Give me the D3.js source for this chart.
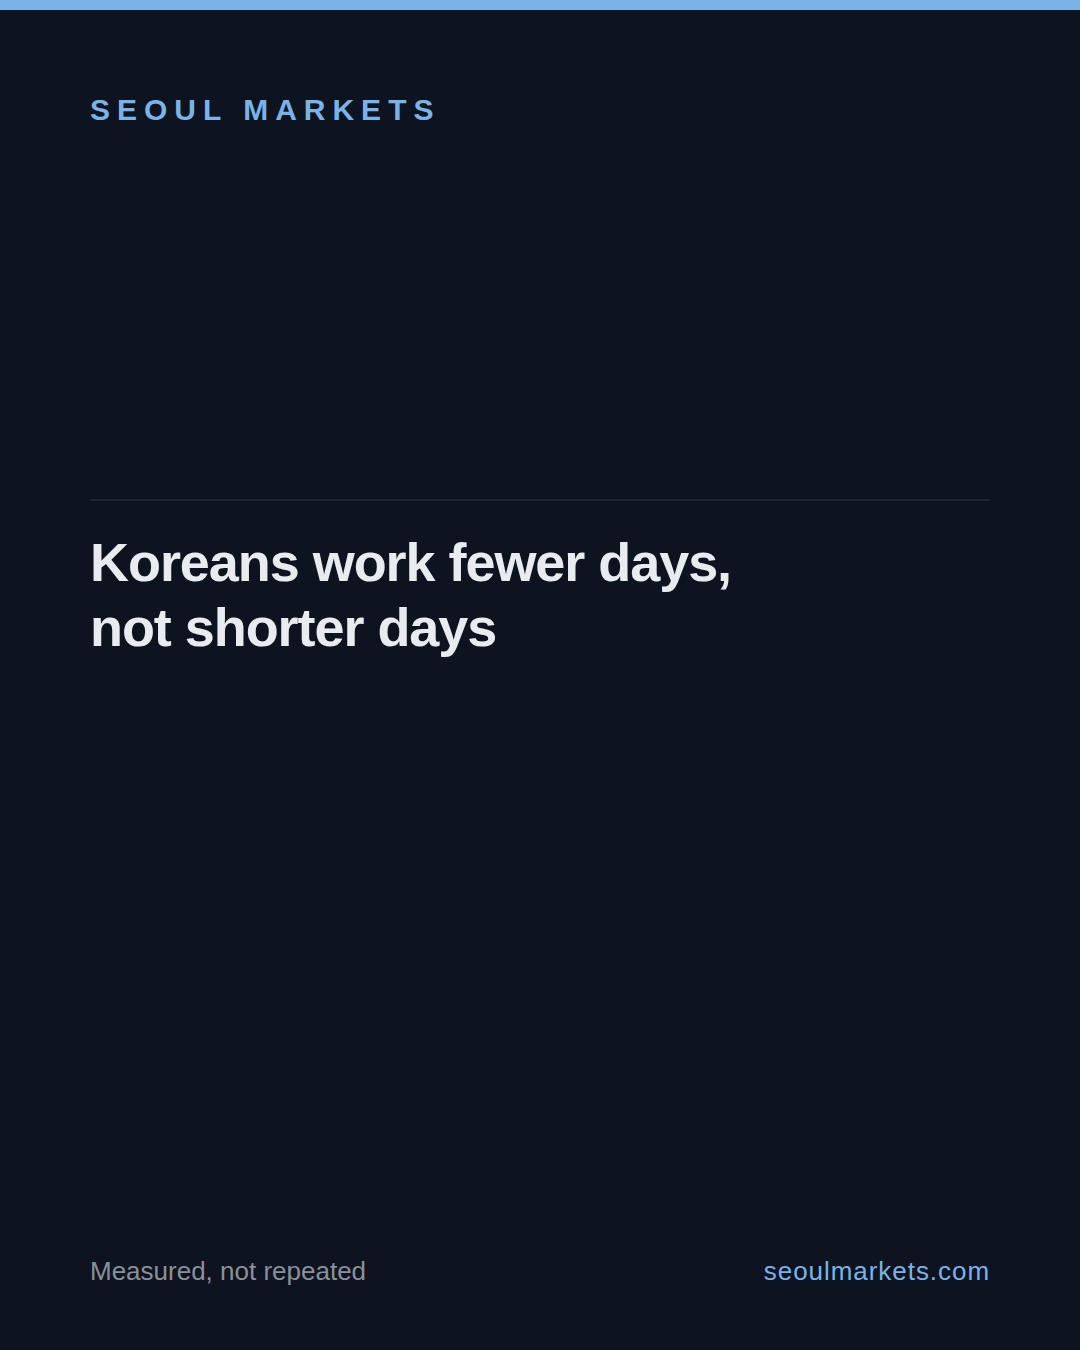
<!DOCTYPE html>
<html>
<head>
<meta charset="utf-8">
<script src="https://cdn.jsdelivr.net/npm/d3@7"></script>
<style>
  html, body { margin: 0; padding: 0; background: #0d131f; }
</style>
</head>
<body>
<div id="card"></div>
<script>
// Text content of the card
const brand = "SEOUL MARKETS";
const titleLines = ["Koreans work fewer days,", "not shorter days"];
const footerLeft = "Measured, not repeated";
const footerRight = "seoulmarkets.com";

const width = 1080;
const height = 1350;
const margin = { left: 90, right: 90 };

const svg = d3.select("#card")
    .append("svg")
    .attr("width", width)
    .attr("height", height)
    .style("font-family", "'Liberation Sans', Arial, sans-serif");

// Background
svg.append("rect")
    .attr("width", width)
    .attr("height", height)
    .attr("fill", "#0d131f");

// Top accent bar
svg.append("rect")
    .attr("width", width)
    .attr("height", 10)
    .attr("fill", "#7ab4e6");

// Brand
svg.append("text")
    .attr("x", margin.left)
    .attr("y", 120)
    .attr("fill", "#7ab4e6")
    .style("font-size", "30px")
    .style("font-weight", "bold")
    .style("letter-spacing", "7px")
    .text(brand);

// Divider
svg.append("line")
    .attr("x1", margin.left)
    .attr("x2", width - margin.right)
    .attr("y1", 500)
    .attr("y2", 500)
    .attr("stroke", "#1c2331")
    .attr("stroke-width", 2);

// Title
svg.append("g")
    .selectAll("text")
    .data(titleLines)
    .enter()
    .append("text")
    .attr("x", margin.left)
    .attr("y", (d, i) => 581 + i * 65)
    .attr("fill", "#e8ebf0")
    .style("font-size", "54px")
    .style("font-weight", "bold")
    .style("letter-spacing", "-1.05px")
    .text(d => d);

// Footer
svg.append("text")
    .attr("x", margin.left)
    .attr("y", 1280)
    .attr("fill", "#8a909b")
    .style("font-size", "26px")
    .text(footerLeft);

svg.append("text")
    .attr("x", width - margin.right)
    .attr("y", 1280)
    .attr("text-anchor", "end")
    .attr("fill", "#7ab4e6")
    .style("font-size", "26px")
    .style("letter-spacing", "0.95px")
    .text(footerRight);
</script>
</body>
</html>
